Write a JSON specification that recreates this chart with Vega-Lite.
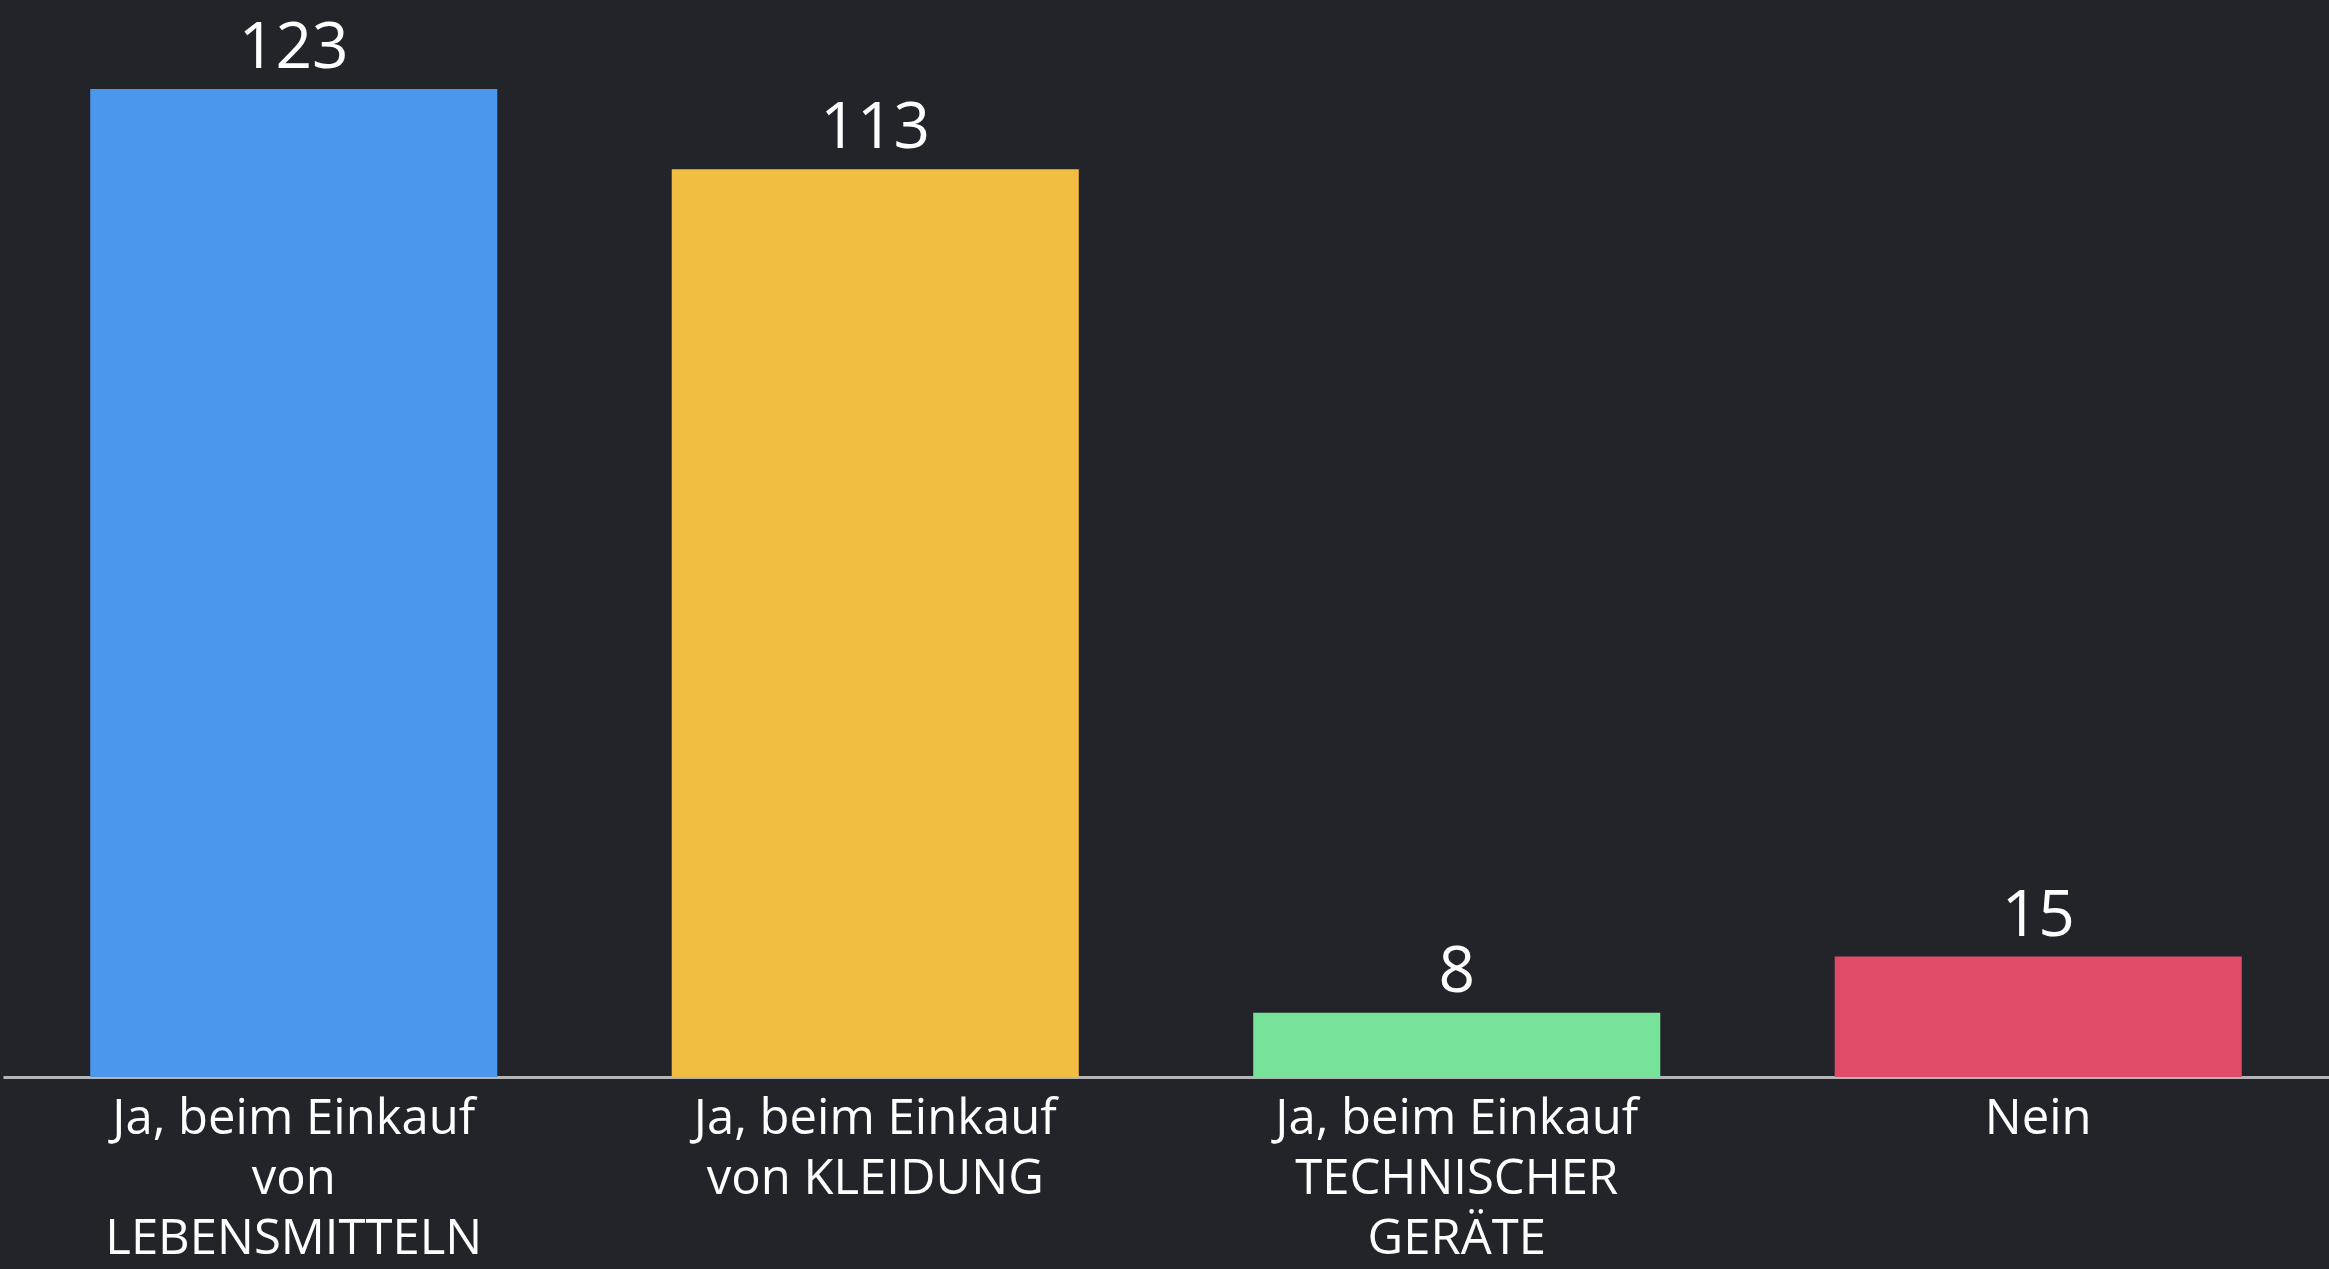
{
  "$schema": "https://vega.github.io/schema/vega-lite/v6.json",
  "width": 2326,
  "height": 988,
  "autosize": {"type": "none"},
  "padding": {"left": 3, "top": 89, "right": 0, "bottom": 192},
  "background": "#232429",
  "config": {"view": {"stroke": null}, "font": "Open Sans"},
  "data": {
    "values": [
      {"antwort": "Ja, beim Einkauf|von|LEBENSMITTELN", "anzahl": 123, "farbe": "#4C97EE"},
      {"antwort": "Ja, beim Einkauf|von KLEIDUNG", "anzahl": 113, "farbe": "#F1BE41"},
      {"antwort": "Ja, beim Einkauf|TECHNISCHER|GERÄTE", "anzahl": 8, "farbe": "#77E39A"},
      {"antwort": "Nein", "anzahl": 15, "farbe": "#E04B68"}
    ]
  },
  "encoding": {
    "x": {
      "field": "antwort",
      "type": "nominal",
      "sort": null,
      "scale": {"paddingInner": 0.3, "paddingOuter": 0.15},
      "axis": {
        "title": null,
        "labelAngle": 0,
        "labelExpr": "split(datum.value, '|')",
        "labelFontSize": 49,
        "labelFontWeight": 500,
        "labelColor": "#ffffff",
        "labelLineHeight": 60,
        "labelPadding": 17,
        "labelLimit": 0,
        "ticks": false,
        "domainColor": "#b5b5b8",
        "domainWidth": 3
      }
    },
    "y": {
      "field": "anzahl",
      "type": "quantitative",
      "scale": {"domain": [0, 123], "nice": false},
      "axis": null
    }
  },
  "layer": [
    {
      "mark": {"type": "bar"},
      "encoding": {
        "color": {"field": "farbe", "type": "nominal", "scale": null}
      }
    },
    {
      "mark": {"type": "text", "baseline": "bottom", "dy": -8, "fontSize": 64, "fontWeight": 500, "color": "#ffffff"},
      "encoding": {"text": {"field": "anzahl", "type": "quantitative"}}
    }
  ]
}
